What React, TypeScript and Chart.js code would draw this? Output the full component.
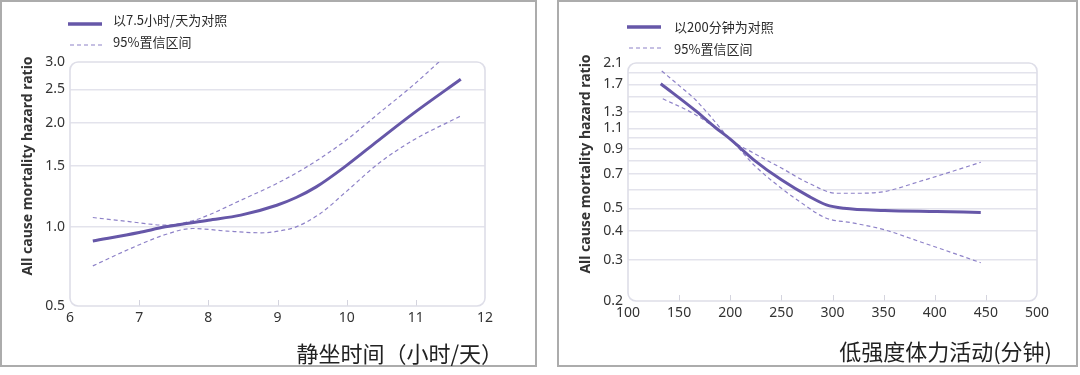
import React, { useEffect, useRef } from 'react';
import { Chart, registerables } from 'chart.js';
Chart.register(...registerables);

// ---------- Left panel: sedentary time (hours/day) ----------
const sedX = [6.33, 7.0, 7.38, 8.0, 8.47, 8.99, 9.27, 9.56, 9.99, 10.46, 10.96, 11.65];
const sedHR = [0.91, 0.963, 1.0, 1.045, 1.081, 1.155, 1.216, 1.305, 1.501, 1.78, 2.127, 2.674];
const sedUpperX = [6.33, 6.88, 7.38, 7.77, 8.0, 8.47, 8.99, 9.46, 9.99, 10.46, 10.96, 11.35];
const sedUpper = [1.064, 1.034, 1.011, 1.041, 1.081, 1.194, 1.335, 1.507, 1.78, 2.127, 2.569, 3.02];
const sedLowerX = [6.33, 6.88, 7.38, 7.77, 8.27, 8.77, 9.02, 9.27, 9.62, 9.99, 10.46, 10.96, 11.65];
const sedLower = [0.771, 0.866, 0.95, 0.989, 0.972, 0.961, 0.972, 1.0, 1.093, 1.263, 1.525, 1.78, 2.094];
const sedXTicks = [6, 7, 8, 9, 10, 11, 12];
const sedYTicks = [0.59, 1.0, 1.5, 2.0, 2.5, 3.0];
const sedYTickLabels = ['0.5', '1.0', '1.5', '2.0', '2.5', '3.0'];

// ---------- Right panel: light physical activity (minutes) ----------
const lpaX = [132, 166, 186, 200, 223, 250, 277, 294, 311, 351, 402, 445];
const lpaHR = [1.711, 1.311, 1.105, 0.99, 0.807, 0.662, 0.562, 0.517, 0.5, 0.489, 0.484, 0.48];
const lpaUpperX = [133, 150, 166, 180, 200, 223, 250, 277, 304, 328, 351, 385, 419, 445];
const lpaUpper = [1.94, 1.68, 1.46, 1.25, 0.99, 0.862, 0.744, 0.64, 0.58, 0.58, 0.59, 0.651, 0.724, 0.788];
const lpaLowerX = [134, 166, 188, 200, 223, 250, 270, 294, 318, 351, 385, 419, 445];
const lpaLower = [1.476, 1.26, 1.086, 0.99, 0.768, 0.609, 0.526, 0.453, 0.434, 0.404, 0.36, 0.32, 0.292];
const lpaXTicks = [100, 150, 200, 250, 300, 350, 400, 450, 500];
const lpaYGrid = [0.2, 0.3, 0.4, 0.5, 0.6, 0.7, 0.8, 0.9, 1.0, 1.1, 1.3, 1.5, 1.7, 1.9, 2.1];
const lpaYLabeled = [0.2, 0.3, 0.4, 0.5, 0.7, 0.9, 1.1, 1.3, 1.7, 2.1];

const legendSolid = ['以7.5小时/天为对照', '以200分钟为对照'];
const legendDashed = '95%置信区间';
const yTitle = 'All cause mortality hazard ratio';
const xTitles = ['静坐时间（小时/天）', '低强度体力活动(分钟)'];

const SOLID = '#6657a8';
const DASH = '#8e82c8';
const GRID = '#e3e3ec';
const FRAME = '#dedee8';
const TICKFONT = { family: '"Noto Sans", "DejaVu Sans", sans-serif', size: 14 };

const pts = (xs: number[], ys: number[]) => xs.map((x, i) => ({ x, y: ys[i] }));

const framePlugin = {
  id: 'frame',
  beforeDatasetsDraw(chart: any, _args: any, opts: any) {
    const { ctx, chartArea: a, scales } = chart;
    ctx.save();
    ctx.strokeStyle = '#d4d4de';
    ctx.lineWidth = 1;
    (opts.innerTicks || []).forEach((v: number) => {
      const x = Math.round(scales.x.getPixelForValue(v)) + 0.5;
      ctx.beginPath();
      ctx.moveTo(x, a.bottom);
      ctx.lineTo(x, a.bottom - 6);
      ctx.stroke();
    });
    ctx.strokeStyle = FRAME;
    ctx.lineWidth = 1.6;
    ctx.beginPath();
    ctx.roundRect(a.left, a.top, a.right - a.left, a.bottom - a.top, 8);
    ctx.stroke();
    ctx.restore();
  },
};

type PanelProps = {
  left: number;
  datasets: any[];
  xMin: number; xMax: number; xTicks: number[]; innerTicks: number[];
  yMin: number; yMax: number; yTicks: number[]; yLabel: (v: number, i: number) => string;
  padding: { left: number; right: number; top: number; bottom: number };
};

function Panel(p: PanelProps) {
  const ref = useRef<HTMLCanvasElement>(null);
  useEffect(() => {
    if (!ref.current) return;
    const last = p.yTicks.length - 1;
    const chart = new Chart(ref.current, {
      type: 'line',
      data: { datasets: p.datasets },
      plugins: [framePlugin],
      options: {
        animation: false,
        responsive: false,
        parsing: false as any,
        layout: { padding: p.padding },
        plugins: {
          legend: { display: false },
          tooltip: { enabled: false },
          frame: { innerTicks: p.innerTicks },
        } as any,
        scales: {
          x: {
            type: 'linear',
            min: p.xMin,
            max: p.xMax,
            afterBuildTicks: (s: any) => { s.ticks = p.xTicks.map((v) => ({ value: v })); },
            afterFit: (s: any) => { s.height = 30; },
            grid: { display: false, drawTicks: false },
            border: { display: false },
            ticks: { font: TICKFONT, color: '#333', padding: 4, maxRotation: 0, autoSkip: false },
          },
          y: {
            type: 'logarithmic',
            min: p.yMin,
            max: p.yMax,
            afterBuildTicks: (s: any) => { s.ticks = p.yTicks.map((v) => ({ value: v })); },
            afterFit: (s: any) => { s.width = 40; },
            grid: {
              drawTicks: false,
              lineWidth: 1.5,
              color: (c: any) => (c.index === 0 || c.index === last ? 'rgba(0,0,0,0)' : GRID),
            },
            border: { display: false },
            ticks: {
              font: TICKFONT,
              color: '#333',
              padding: 5,
              autoSkip: false,
              major: { enabled: false },
              callback: (v: any, i: number) => p.yLabel(Number(v), i),
            },
          },
        },
      },
    });
    return () => chart.destroy();
  }, []);
  return (
    <canvas
      ref={ref}
      width={540}
      height={375}
      style={{ position: 'absolute', left: p.left, top: 0, width: 540, height: 375 }}
    />
  );
}

const solidDs = (data: any[]) => ({
  data, borderColor: SOLID, borderWidth: 3, pointRadius: 0, tension: 0.4,
  cubicInterpolationMode: 'monotone', fill: false,
});
const dashDs = (data: any[]) => ({
  data, borderColor: DASH, borderWidth: 1.2, borderDash: [4, 3], pointRadius: 0, tension: 0.4,
  cubicInterpolationMode: 'monotone', fill: false,
});

function LegendLine({ x, y, w, dashed }: { x: number; y: number; w: number; dashed: boolean }) {
  return (
    <svg style={{ position: 'absolute', left: x, top: y - 3, width: w, height: 6 }} width={w} height={6}>
      <line
        x1={0} y1={3} x2={w} y2={3}
        stroke={dashed ? DASH : SOLID}
        strokeWidth={dashed ? 1.2 : 3.5}
        strokeDasharray={dashed ? '4 3' : undefined}
        strokeLinecap={dashed ? 'butt' : 'round'}
      />
    </svg>
  );
}

const legendText: React.CSSProperties = {
  position: 'absolute',
  font: '13px "Noto Sans CJK SC", "Noto Sans", sans-serif',
  color: '#2a2a2a',
  lineHeight: '16px',
  whiteSpace: 'nowrap',
};
const yTitleStyle = (cx: number, cy: number): React.CSSProperties => ({
  position: 'absolute',
  left: cx - 130,
  top: cy - 9,
  width: 260,
  height: 18,
  lineHeight: '18px',
  textAlign: 'center',
  transform: 'rotate(-90deg)',
  font: 'bold 14px "Noto Sans", "DejaVu Sans", sans-serif',
  color: '#333',
  whiteSpace: 'nowrap',
});
const xTitleStyle = (right: number, cy: number): React.CSSProperties => ({
  position: 'absolute',
  left: right - 320,
  width: 320,
  top: cy - 14,
  height: 28,
  lineHeight: '28px',
  textAlign: 'right',
  font: '22px "Noto Sans CJK SC", sans-serif',
  color: '#222',
  whiteSpace: 'nowrap',
});

export default function App() {
  return (
    <div style={{ position: 'absolute', left: 0, top: 0, width: 1080, height: 375, background: '#fff', overflow: 'hidden' }}>
      <div style={{ position: 'absolute', left: 0, top: 0, width: 537, height: 367, border: '2px solid #acacac', boxSizing: 'border-box' }} />
      <div style={{ position: 'absolute', left: 557, top: 0, width: 521, height: 367, border: '2px solid #acacac', boxSizing: 'border-box' }} />

      <Panel
        left={0}
        datasets={[solidDs(pts(sedX, sedHR)), dashDs(pts(sedUpperX, sedUpper)), dashDs(pts(sedLowerX, sedLower))]}
        xMin={6} xMax={12} xTicks={sedXTicks} innerTicks={sedXTicks.slice(1, -1)}
        yMin={0.59} yMax={3.0} yTicks={sedYTicks}
        yLabel={(_v, i) => sedYTickLabels[i] ?? ''}
        padding={{ left: 30, right: 55, top: 62, bottom: 39 }}
      />
      <Panel
        left={540}
        datasets={[solidDs(pts(lpaX, lpaHR)), dashDs(pts(lpaUpperX, lpaUpper)), dashDs(pts(lpaLowerX, lpaLower))]}
        xMin={100} xMax={500} xTicks={lpaXTicks} innerTicks={lpaXTicks.slice(1, -1)}
        yMin={0.2} yMax={2.1} yTicks={lpaYGrid}
        yLabel={(v) => (lpaYLabeled.some((l) => Math.abs(l - v) < 1e-6) ? v.toFixed(1) : '')}
        padding={{ left: 48, right: 43, top: 63, bottom: 44 }}
      />

      <LegendLine x={68} y={24} w={34} dashed={false} />
      <div style={{ ...legendText, left: 113, top: 12 }}>{legendSolid[0]}</div>
      <LegendLine x={70} y={45} w={33} dashed={true} />
      <div style={{ ...legendText, left: 113, top: 34 }}>{legendDashed}</div>

      <LegendLine x={627} y={27} w={34} dashed={false} />
      <div style={{ ...legendText, left: 674, top: 19 }}>{legendSolid[1]}</div>
      <LegendLine x={629} y={48} w={32} dashed={true} />
      <div style={{ ...legendText, left: 674, top: 41 }}>{legendDashed}</div>

      <div style={yTitleStyle(26, 166)}>{yTitle}</div>
      <div style={yTitleStyle(584, 164)}>{yTitle}</div>

      <div style={xTitleStyle(503, 350)}>{xTitles[0]}</div>
      <div style={xTitleStyle(1052, 348)}>{xTitles[1]}</div>
    </div>
  );
}
